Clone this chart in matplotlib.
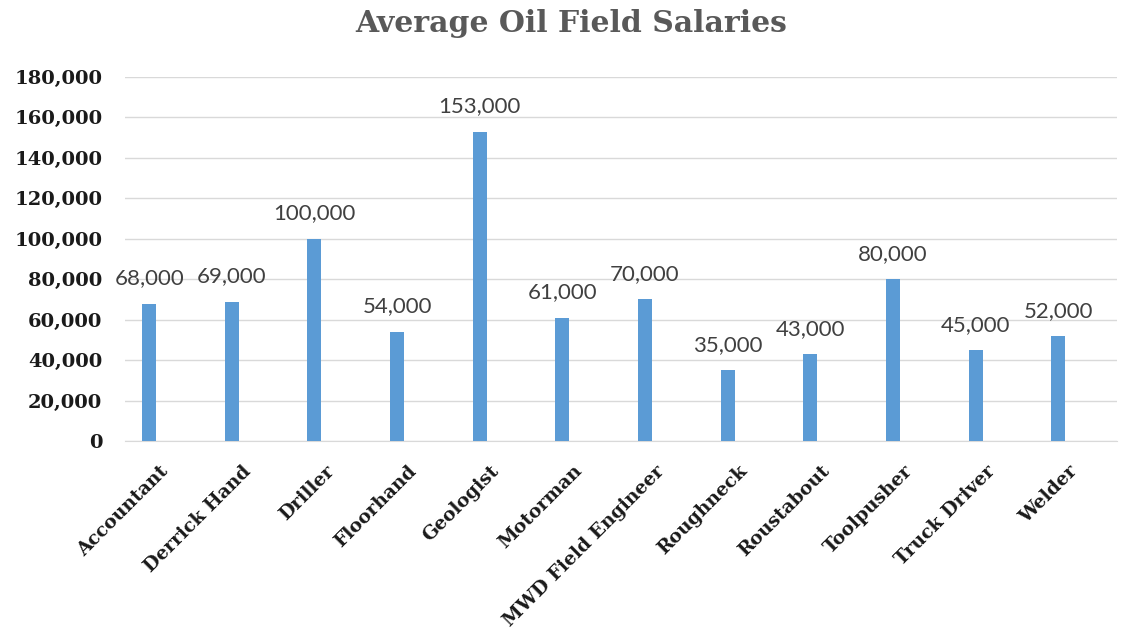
import numpy as np
import matplotlib.pyplot as plt
import matplotlib.transforms as mtransforms
from matplotlib.ticker import FuncFormatter

jobs = ['Accountant', 'Derrick Hand', 'Driller', 'Floorhand', 'Geologist', 'Motorman',
        'MWD Field Engineer', 'Roughneck', 'Roustabout', 'Toolpusher', 'Truck Driver', 'Welder']
salaries = [68000, 69000, 100000, 54000, 153000, 61000, 70000, 35000, 43000, 80000, 45000, 52000]

fig = plt.figure(figsize=(11.38, 6.31), dpi=100)
ax = fig.add_axes([0.110, 0.301, 0.8715, 0.577])

x = np.arange(len(jobs))
# bars sit left of the category centre, like the excel original
bx = x - 0.21
ax.bar(bx, salaries, width=0.17, color='#5B9BD5', zorder=3)

for xi, v in zip(bx, salaries):
    ax.annotate(f'{v:,}', (xi, v), xytext=(0, 11), textcoords='offset points',
                ha='center', va='bottom', fontsize=16, family='Lato',
                color='#404040', zorder=4)

ax.set_xlim(-0.5, len(jobs) - 0.5)
ax.set_ylim(0, 180000)
ax.set_yticks(np.arange(0, 180001, 20000))
ax.yaxis.set_major_formatter(FuncFormatter(lambda v, p: f'{int(v):,}'))
ax.grid(axis='y', color='#D9D9D9', linewidth=1, zorder=0)

for s in ['top', 'right', 'left']:
    ax.spines[s].set_visible(False)
ax.spines['bottom'].set_color('#D9D9D9')
ax.tick_params(axis='both', length=0)
ax.tick_params(axis='y', pad=16.5)
ax.tick_params(axis='x', pad=12)

ax.set_xticks(x)
ax.set_xticklabels(jobs, rotation=45, ha='right', rotation_mode='anchor')
shift = mtransforms.ScaledTranslation(-5 / 72, -3 / 72, fig.dpi_scale_trans)
for lab in ax.get_xticklabels():
    lab.set_family('DejaVu Serif')
    lab.set_fontweight('bold')
    lab.set_fontsize(13.5)
    lab.set_color('#1a1a1a')
    lab.set_transform(lab.get_transform() + shift)
for lab in ax.get_yticklabels():
    lab.set_family('DejaVu Serif')
    lab.set_fontweight('bold')
    lab.set_fontsize(14)
    lab.set_color('#1a1a1a')

fig.suptitle('Average Oil Field Salaries', x=0.502, y=0.985, fontsize=21.5,
             family='DejaVu Serif', fontweight='bold', color='#595959')

plt.savefig('out.png', dpi=100)
